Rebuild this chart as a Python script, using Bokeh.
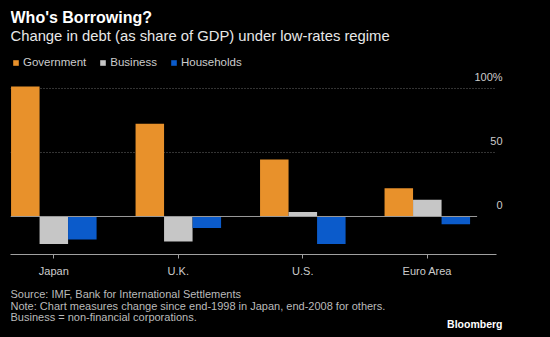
from bokeh.plotting import figure
from bokeh.models import (ColumnDataSource, Label, LabelSet, Legend, LegendItem,
                          FixedTicker, Range1d)
from bokeh.core.properties import value
from bokeh.layouts import column
from bokeh.embed import file_html
from bokeh.resources import INLINE

# ---- data ----
regions = ["Japan", "U.K.", "U.S.", "Euro Area"]
government = [101.5, 72.5, 44.5, 22]
business = [-21.5, -19.5, 3.5, 13]
households = [-18, -9, -21.5, -6]
series_names = ["Government", "Business", "Households"]
series_colors = ["#E8912B", "#C6C6C6", "#0B5BCB"]
y_ticks = [0, 50, 100]
y_tick_labels = ["0", "50", "100%"]

FONT = "Liberation Sans"
BG = "#000000"
W = 550
BL, BR = 10, 46  # left / right borders shared by all stacked figures


def blank(height):
    f = figure(width=W, height=height, output_backend="svg", toolbar_location=None,
               x_range=Range1d(BL, W - BR), y_range=Range1d(0, height),
               x_axis_location=None, y_axis_location=None,
               min_border_left=BL, min_border_right=BR,
               min_border_top=0, min_border_bottom=0,
               styles={"background-color": BG})
    f.background_fill_color = BG
    f.border_fill_color = BG
    f.outline_line_color = None
    f.xgrid.visible = False
    f.ygrid.visible = False
    return f


def lab(f, text, x, y, size, color, bold=False, align="left", baseline="alphabetic"):
    f.add_layout(Label(x=x, y=y, text=text, text_font=FONT, text_font_size=size,
                       text_color=color, text_font_style="bold" if bold else "normal",
                       text_align=align, text_baseline=baseline))


# ---- header: title and subtitle in separate strips ----
head1 = blank(26)
lab(head1, "Who's Borrowing?", 10, 8.6, "16px", "#ffffff", bold=True, baseline="middle")
head2 = blank(26)
lab(head2, "Change in debt (as share of GDP) under low-rates regime", 10, 17,
    "14.8px", "#e8e8e8", baseline="middle")

# ---- main chart ----
X_START, X_END, GRID_END = -0.348, 3.620, 3.556
Y_START, Y_END = -29.69, 128.1

p = figure(width=W, height=232, output_backend="svg", toolbar_location=None,
           x_range=Range1d(X_START, X_END), y_range=Range1d(Y_START, Y_END),
           y_axis_location=None,
           min_border_left=BL, min_border_right=BR, min_border_top=0, min_border_bottom=30,
           styles={"background-color": BG})
p.background_fill_color = BG
p.border_fill_color = BG
p.outline_line_color = None
p.xgrid.visible = False
p.ygrid.visible = False

grid_vals = [t for t in y_ticks if t != 0]
p.segment(x0=[X_START] * len(grid_vals), x1=[GRID_END] * len(grid_vals),
          y0=grid_vals, y1=grid_vals, line_color="#6a6a6a", line_dash="1 2", line_width=1)

bar_w = 0.229
offsets = [-bar_w, 0.0, bar_w]
series = [government, business, households]
renderers = []
for vals, off, col in zip(series, offsets, series_colors):
    src = ColumnDataSource(dict(x=[i + off for i in range(len(regions))], top=vals))
    r = p.vbar(x="x", top="top", bottom=0, width=bar_w, source=src,
               fill_color=col, line_color=None)
    renderers.append(r)

# zero line
p.segment(x0=[X_START], x1=[len(regions) - 1 + 0.4], y0=[0], y1=[0],
          line_color="#9a9a9a", line_width=1)

ax = p.xaxis[0]
ax.bounds = (X_START, GRID_END)
ax.ticker = FixedTicker(ticks=list(range(len(regions))))
ax.major_label_overrides = {i: n for i, n in enumerate(regions)}
ax.axis_line_color = "#a0a0a0"
ax.major_tick_line_color = "#a0a0a0"
ax.major_tick_in = 0
ax.major_tick_out = 4
ax.minor_tick_line_color = None
ax.major_label_standoff = 6
ax.major_label_text_color = "#cccccc"
ax.major_label_text_font = FONT
ax.major_label_text_font_size = "11px"

ysrc = ColumnDataSource(dict(x=[GRID_END] * len(y_ticks), y=y_ticks, t=y_tick_labels))
p.add_layout(LabelSet(x="x", y="y", text="t", source=ysrc, x_offset=6, y_offset=7.5,
                      text_align="right", text_baseline="alphabetic",
                      text_color="#cccccc", text_font=value(FONT), text_font_size="11px"))

legend = Legend(items=[LegendItem(label=n, renderers=[r]) for n, r in zip(series_names, renderers)],
                orientation="horizontal", location=(2, 182),
                background_fill_alpha=0, border_line_alpha=0,
                glyph_width=7, glyph_height=7, label_standoff=4, spacing=13,
                padding=0, margin=0, label_height=20,
                label_text_color="#cccccc", label_text_font=FONT,
                label_text_font_size="11.5px")
p.add_layout(legend)

# ---- footer ----
foot = blank(53)
lab(foot, "Source: IMF, Bank for International Settlements", 10, 43.3, "11px", "#bbbbbb")
lab(foot, "Note: Chart measures change since end-1998 in Japan, end-2008 for others.", 10, 32, "11px", "#bbbbbb")
lab(foot, "Business = non-financial corporations.", 10, 20.5, "11px", "#bbbbbb")
lab(foot, "Bloomberg", 502, 14, "10.5px", "#ffffff", bold=True, align="right")

layout = column(head1, head2, p, foot, spacing=0, styles={"background-color": BG})
html = file_html(layout, INLINE)
html = html.replace("<head>", "<head><style>html,body{background:#000;margin:0;}</style>", 1)
open("out.html", "w").write(html)
